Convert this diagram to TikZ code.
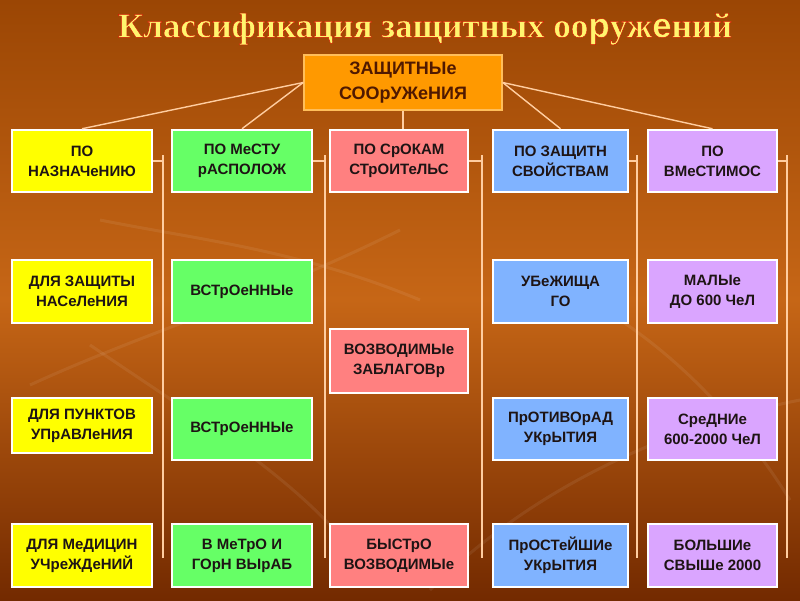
\documentclass[tikz,border=0pt]{standalone}
\usepackage{fontspec}
\setmainfont{Liberation Serif}
\newfontfamily\boxfont{Liberation Sans}
\usetikzlibrary{calc}
\definecolor{bgtop}{RGB}{155,70,4}
\definecolor{bgmid}{RGB}{198,102,22}
\definecolor{bgbot}{RGB}{115,42,0}
\definecolor{cyel}{RGB}{255,255,0}
\definecolor{cgrn}{RGB}{102,255,102}
\definecolor{cpnk}{RGB}{255,128,128}
\definecolor{cblu}{RGB}{128,179,255}
\definecolor{cvio}{RGB}{218,165,255}
\definecolor{corg}{RGB}{255,153,0}
\definecolor{corgb}{RGB}{255,190,90}
\definecolor{ctxt}{RGB}{30,20,20}
\definecolor{ctoptxt}{RGB}{80,25,0}
\definecolor{cline}{RGB}{255,205,160}
\definecolor{ctitle}{RGB}{255,245,110}
\tikzset{
  box/.style={draw=white, line width=2.5pt, inner sep=0pt, align=center,
    text=ctxt, font=\boxfont\bfseries\fontsize{15}{20}\selectfont},
  topbox/.style={draw=corgb, line width=1.5pt, fill=corg, inner sep=0pt, align=center,
    text=ctoptxt, font=\boxfont\bfseries\fontsize{18}{25}\selectfont,
    minimum width=198pt, minimum height=55pt},
  conn/.style={draw=cline, line width=1.4pt},
  w1/.style={minimum width=140pt}, w2/.style={minimum width=140pt},
  w3/.style={minimum width=138pt}, w4/.style={minimum width=135pt},
  w5/.style={minimum width=129pt},
  titlefont/.style={font=\bfseries\fontsize{35}{38}\selectfont, inner sep=0pt}
}
\newcommand{\dletter}[1]{{\boxfont\bfseries\fontsize{35}{38}\selectfont #1}}
% yellow fill with a thin red stroke (text render mode 2)
\newcommand{\strokedtitle}[1]{\special{pdf:literal 2 Tr 0.45 w 0.82 0.08 0 RG}#1\special{pdf:literal 0 Tr}}
\begin{document}
\begin{tikzpicture}[x=1pt,y=-1pt]
\useasboundingbox (0,0) rectangle (800,600);
\shade[top color=bgtop, bottom color=bgmid] (0,0) rectangle (800,300);
\shade[top color=bgmid, bottom color=bgbot] (0,300) rectangle (800,600);
% faint decorative streaks
\begin{scope}[draw=white, opacity=0.07, line width=3pt]
\draw (30,385) .. controls (150,330) and (260,300) .. (400,230);
\draw (90,345) .. controls (200,420) and (300,480) .. (360,560);
\draw (430,590) .. controls (550,470) and (700,420) .. (800,400);
\draw (620,320) .. controls (680,360) and (740,420) .. (790,500);
\draw (100,220) .. controls (200,240) and (300,250) .. (420,300);
\end{scope}
% title
\node[titlefont, text=ctitle] (title) at (425,29)
  {\strokedtitle{Классификация защитных оо\dletter{р}уж\dletter{е}ний}};
% top node
\node[topbox] (top) at (403,82.5) {ЗАЩИТНЫе\\СООрУЖеНИЯ};
% header row
\node[box,w1,minimum height=62pt,fill=cyel] (h1) at (82,161) {ПО\\НАЗНАЧеНИЮ};
\node[box,w2,minimum height=62pt,fill=cgrn] (h2) at (242,161) {ПО МеСТУ\\рАСПОЛОЖ};
\node[box,w3,minimum height=62pt,fill=cpnk] (h3) at (399,161) {ПО СрОКАМ\\СТрОИТеЛЬС};
\node[box,w4,minimum height=62pt,fill=cblu] (h4) at (560.5,161) {ПО ЗАЩИТН\\СВОЙСТВАМ};
\node[box,w5,minimum height=62pt,fill=cvio] (h5) at (712.5,161) {ПО\\ВМеСТИМОС};
% row 2
\node[box,w1,minimum height=63pt,fill=cyel] (a2) at (82,291.5) {ДЛЯ ЗАЩИТЫ\\НАСеЛеНИЯ};
\node[box,w2,minimum height=63pt,fill=cgrn] (b2) at (242,291.5) {ВСТрОеННЫе};
\node[box,w4,minimum height=63pt,fill=cblu] (d2) at (560.5,291.5) {УБеЖИЩА\\ГО};
\node[box,w5,minimum height=63pt,fill=cvio] (e2) at (712.5,291.5) {МАЛЫе\\ДО 600 ЧеЛ};
% col3 middle
\node[box,w3,minimum height=64pt,fill=cpnk] (c2) at (399,361) {ВОЗВОДИМЫе\\ЗАБЛАГОВр};
% row 3
\node[box,w1,minimum height=55pt,fill=cyel] (a3) at (82,425.5) {ДЛЯ ПУНКТОВ\\УПрАВЛеНИЯ};
\node[box,w2,minimum height=62pt,fill=cgrn] (b3) at (242,429) {ВСТрОеННЫе};
\node[box,w4,minimum height=62pt,fill=cblu] (d3) at (560.5,429) {ПрОТИВОрАД\\УКрЫТИЯ};
\node[box,w5,minimum height=62pt,fill=cvio] (e3) at (712.5,429) {СреДНИе\\600-2000 ЧеЛ};
% row 4
\node[box,w1,minimum height=63pt,fill=cyel] (a4) at (82,555.5) {ДЛЯ МеДИЦИН\\УЧреЖДеНИЙ};
\node[box,w2,minimum height=63pt,fill=cgrn] (b4) at (242,555.5) {В МеТрО И\\ГОрН ВЫрАБ};
\node[box,w3,minimum height=63pt,fill=cpnk] (c4) at (399,555.5) {БЫСТрО\\ВОЗВОДИМЫе};
\node[box,w4,minimum height=63pt,fill=cblu] (d4) at (560.5,555.5) {ПрОСТеЙШИе\\УКрЫТИЯ};
\node[box,w5,minimum height=63pt,fill=cvio] (e4) at (712.5,555.5) {БОЛЬШИе\\СВЫШе 2000};
% connectors from top
\draw[conn] (top.west) -- (h1.north);
\draw[conn] (top.west) -- (h2.north);
\draw[conn] (top.south) -- (top.south |- h3.north);
\draw[conn] (top.east) -- (h4.north);
\draw[conn] (top.east) -- (h5.north);
% column lines
\coordinate (v1t) at (163,155); \coordinate (v1b) at (163,558);
\coordinate (v2t) at (325,155); \coordinate (v2b) at (325,558);
\coordinate (v3t) at (482,155); \coordinate (v3b) at (482,558);
\coordinate (v4t) at (637,155); \coordinate (v4b) at (637,558);
\coordinate (v5t) at (787,155); \coordinate (v5b) at (787,558);
\draw[conn] (h1.east) -- (h1.east -| v1t);
\draw[conn] (h2.east) -- (h2.east -| v2t);
\draw[conn] (h3.east) -- (h3.east -| v3t);
\draw[conn] (h4.east) -- (h4.east -| v4t);
\draw[conn] (h5.east) -- (h5.east -| v5t);
\draw[conn] (v1t) -- (v1b);
\draw[conn] (v2t) -- (v2b);
\draw[conn] (v3t) -- (v3b);
\draw[conn] (v4t) -- (v4b);
\draw[conn] (v5t) -- (v5b);
\end{tikzpicture}
\end{document}
